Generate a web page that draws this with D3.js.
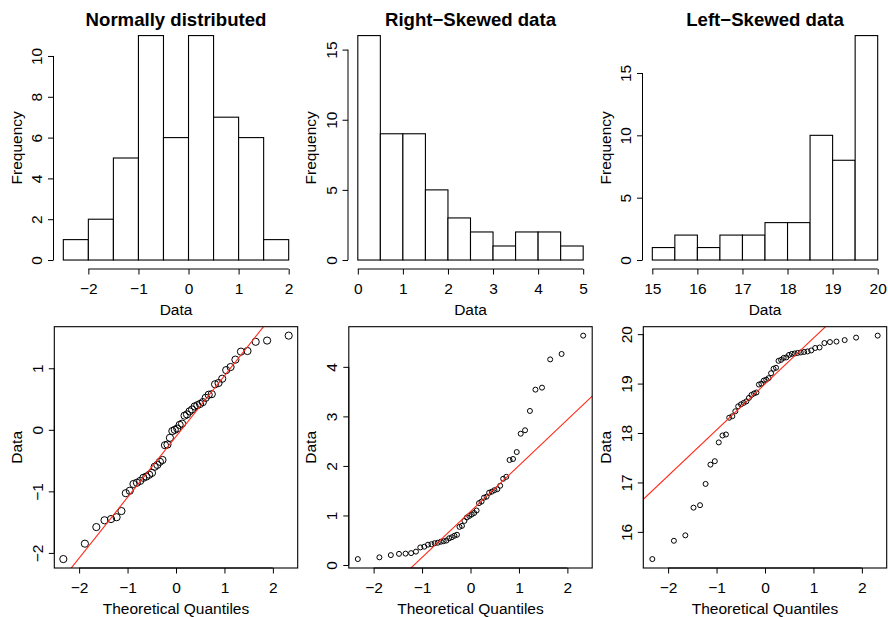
<!DOCTYPE html>
<html><head><meta charset="utf-8">
<script src="https://cdn.jsdelivr.net/npm/d3@7"></script>
<style>
html,body{margin:0;padding:0;background:#fff;}
svg{display:block;font-family:"Liberation Sans",Arial,Helvetica,sans-serif;}
</style></head>
<body><svg id="chart" width="888" height="617"></svg>
<script>
// ---------- DATA ----------
const titles = ["Normally distributed", "Right\u2212Skewed data", "Left\u2212Skewed data"];

// Histogram bin edges (start, width) and counts
const normBinStart = -2.5, rightBinStart = 0, leftBinStart = 15;
const binWidth = 0.5;
const normCounts  = [1, 2, 5, 11, 6, 11, 7, 6, 1];
const rightCounts = [16, 9, 9, 5, 3, 2, 1, 2, 2, 1];
const leftCounts  = [1, 2, 1, 2, 2, 3, 3, 10, 8, 18];

const normXTicks  = [-2, -1, 0, 1, 2];
const rightXTicks = [0, 1, 2, 3, 4, 5];
const leftXTicks  = [15, 16, 17, 18, 19, 20];
const normYTicks  = [0, 2, 4, 6, 8, 10];
const rightYTicks = [0, 5, 10, 15];
const leftYTicks  = [0, 5, 10, 15];

// Theoretical normal quantiles for 50 points
const theoretical = [-2.3263,-1.8808,-1.6449,-1.4758,-1.3408,-1.2265,-1.1264,-1.0364,-0.9542,-0.8779,
  -0.8064,-0.7388,-0.6745,-0.6128,-0.5534,-0.4959,-0.4399,-0.3853,-0.3319,-0.2793,
  -0.2275,-0.1764,-0.1257,-0.0753,-0.0251,0.0251,0.0753,0.1257,0.1764,0.2275,
  0.2793,0.3319,0.3853,0.4399,0.4959,0.5534,0.6128,0.6745,0.7388,0.8064,
  0.8779,0.9542,1.0364,1.1264,1.2265,1.3408,1.4758,1.6449,1.8808,2.3263];

// Sorted sample values
const normSample = [-2.10,-1.85,-1.58,-1.47,-1.45,-1.42,-1.32,-1.03,-0.99,-0.88,
  -0.86,-0.83,-0.78,-0.76,-0.73,-0.70,-0.60,-0.57,-0.52,-0.49,
  -0.25,-0.24,-0.13,-0.02,0.00,0.02,0.08,0.10,0.23,0.25,
  0.30,0.33,0.38,0.40,0.42,0.45,0.52,0.57,0.58,0.74,
  0.76,0.83,0.97,1.02,1.14,1.27,1.28,1.43,1.45,1.53];
const rightSample = [0.12,0.155,0.20,0.225,0.23,0.24,0.27,0.355,0.37,0.41,
  0.42,0.44,0.45,0.47,0.48,0.495,0.54,0.56,0.59,0.61,
  0.77,0.79,0.89,0.96,0.99,1.02,1.05,1.10,1.25,1.28,
  1.36,1.38,1.46,1.48,1.51,1.53,1.60,1.74,1.78,2.12,
  2.14,2.28,2.65,2.72,3.11,3.54,3.58,4.15,4.26,4.63];
const leftSample = [15.45,15.82,15.93,16.49,16.54,16.97,17.36,17.43,17.81,17.95,
  17.97,18.31,18.34,18.44,18.54,18.58,18.61,18.64,18.71,18.77,
  18.80,18.82,18.98,19.00,19.06,19.08,19.11,19.21,19.30,19.32,
  19.46,19.48,19.52,19.53,19.58,19.60,19.61,19.62,19.63,19.64,
  19.65,19.67,19.72,19.73,19.82,19.84,19.85,19.88,19.93,19.97];

const qqXTicks = [-2, -1, 0, 1, 2];
const normQQYTicks  = [-2, -1, 0, 1];
const rightQQYTicks = [0, 1, 2, 3, 4];
const leftQQYTicks  = [16, 17, 18, 19, 20];

// ---------- LAYOUT ----------
const svg = d3.select("#chart");
const FS = 15.5;
const panelLeft = [54.3, 348.8, 643.3];
const plotW = 243.4;
const topRow = {y0: 26.6, y1: 269};
const botRow = {y0: 326.7, y1: 568};
const Q75 = 0.6744898;
const fmt = v => String(v).replace("-", "\u2212");

function ext(lo, hi) { const d = (hi - lo) * 0.04; return [lo - d, hi + d]; }

function drawXAxis(g, x, ticks, yBottom) {
  const ax = g.append("g").attr("transform", `translate(0,${yBottom})`)
    .call(d3.axisBottom(x).tickValues(ticks).tickSize(5.5).tickSizeOuter(0).tickFormat(fmt));
  ax.select(".domain").attr("d", `M${x(ticks[0])},0H${x(ticks[ticks.length-1])}`);
  ax.selectAll("line").attr("stroke", "#000");
  ax.select(".domain").attr("stroke", "#000");
  ax.selectAll("text").attr("y", 25).attr("dy", null).attr("font-size", FS).attr("fill", "#000")
    .attr("font-family", "Liberation Sans, Arial, sans-serif");
}
function drawYAxis(g, y, ticks, xLeft) {
  const ax = g.append("g").attr("transform", `translate(${xLeft},0)`)
    .call(d3.axisLeft(y).tickValues(ticks).tickSize(5.5).tickSizeOuter(0).tickFormat(fmt));
  ax.select(".domain").attr("d", `M0,${y(ticks[0])}V${y(ticks[ticks.length-1])}`).attr("stroke", "#000");
  ax.selectAll("line").attr("stroke", "#000");
  ax.selectAll("text").attr("x", null).attr("dy", null).attr("text-anchor", "middle")
    .attr("transform", "translate(-11.5,0) rotate(-90)")
    .attr("font-size", FS).attr("fill", "#000").attr("font-family", "Liberation Sans, Arial, sans-serif");
}
function yLabel(text, xLeft, yc) {
  svg.append("text").attr("transform", `translate(${xLeft - 32.8},${yc}) rotate(-90)`)
    .attr("text-anchor", "middle").attr("font-size", FS).text(text);
}
function xLabel(text, xc, yBottom) {
  svg.append("text").attr("x", xc).attr("y", yBottom + 46).attr("text-anchor", "middle")
    .attr("font-size", FS).text(text);
}

// ---------- HISTOGRAMS ----------
const hists = [
  {start: normBinStart, counts: normCounts, xt: normXTicks, yt: normYTicks},
  {start: rightBinStart, counts: rightCounts, xt: rightXTicks, yt: rightYTicks},
  {start: leftBinStart, counts: leftCounts, xt: leftXTicks, yt: leftYTicks}
];
hists.forEach((h, i) => {
  const L = panelLeft[i], R = L + plotW;
  const end = h.start + binWidth * h.counts.length;
  const x = d3.scaleLinear().domain(ext(h.start, end)).range([L, R]);
  const y = d3.scaleLinear().domain(ext(0, d3.max(h.counts))).range([topRow.y1, topRow.y0]);
  const g = svg.append("g");
  g.selectAll("rect").data(h.counts).join("rect")
    .attr("x", (d, k) => x(h.start + k * binWidth))
    .attr("width", (d, k) => x(h.start + (k + 1) * binWidth) - x(h.start + k * binWidth))
    .attr("y", d => y(d)).attr("height", d => y(0) - y(d))
    .attr("fill", "#fff").attr("stroke", "#000").attr("stroke-width", 1.1);
  drawXAxis(g, x, h.xt, topRow.y1);
  drawYAxis(g, y, h.yt, L - 0.8);
  svg.append("text").attr("x", (L + R) / 2).attr("y", 25.5).attr("text-anchor", "middle")
    .attr("font-size", FS * 1.2).attr("font-weight", "bold").text(titles[i]);
  xLabel("Data", (L + R) / 2, topRow.y1);
  yLabel("Frequency", L, (topRow.y0 + topRow.y1) / 2);
});

// ---------- Q-Q PLOTS ----------
const qqs = [
  {s: normSample, yt: normQQYTicks, r: 3.6},
  {s: rightSample, yt: rightQQYTicks, r: 2.5},
  {s: leftSample, yt: leftQQYTicks, r: 2.5}
];
qqs.forEach((q, i) => {
  const L = panelLeft[i], R = L + plotW;
  const x = d3.scaleLinear().domain(ext(d3.min(theoretical), d3.max(theoretical))).range([L, R]);
  const y = d3.scaleLinear().domain(ext(d3.min(q.s), d3.max(q.s))).range([botRow.y1, botRow.y0]);
  const g = svg.append("g");
  const cid = "clip" + i;
  svg.append("clipPath").attr("id", cid).append("rect")
    .attr("x", L).attr("y", botRow.y0).attr("width", plotW).attr("height", botRow.y1 - botRow.y0);
  g.selectAll("circle").data(q.s).join("circle")
    .attr("cx", (d, k) => x(theoretical[k])).attr("cy", d => y(d)).attr("r", q.r)
    .attr("fill", "none").attr("stroke", "#000").attr("stroke-width", 1);
  // qqline through quartiles
  const q1 = d3.quantile(q.s, 0.25), q3 = d3.quantile(q.s, 0.75);
  const slope = (q3 - q1) / (2 * Q75), icpt = q1 + Q75 * slope;
  const xd = x.domain();
  g.append("line").attr("clip-path", `url(#${cid})`)
    .attr("x1", x(xd[0])).attr("y1", y(icpt + slope * xd[0]))
    .attr("x2", x(xd[1])).attr("y2", y(icpt + slope * xd[1]))
    .attr("stroke", "#ff2a1a").attr("stroke-width", 1.1);
  g.append("rect").attr("x", L).attr("y", botRow.y0).attr("width", plotW)
    .attr("height", botRow.y1 - botRow.y0).attr("fill", "none").attr("stroke", "#000").attr("stroke-width", 1.1);
  drawXAxis(g, x, qqXTicks, botRow.y1);
  drawYAxis(g, y, q.yt, L);
  xLabel("Theoretical Quantiles", (L + R) / 2, botRow.y1);
  yLabel("Data", L, (botRow.y0 + botRow.y1) / 2);
});
</script>
</body></html>
